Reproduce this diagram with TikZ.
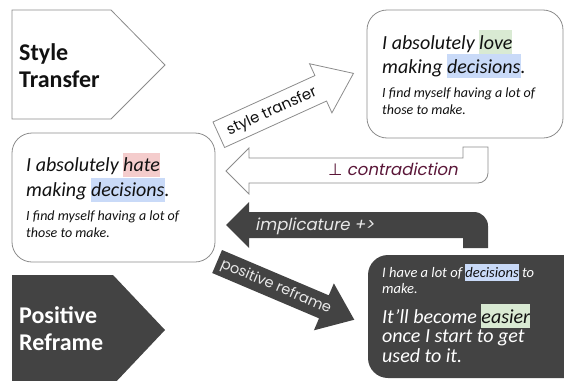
\documentclass[tikz,border=0pt]{standalone}
\usepackage{fontspec}
\setmainfont{Carlito}
\newfontfamily\lblfont{Poppins}
\newfontfamily\lblslant[FakeSlant=0.2]{Poppins}
\newfontfamily\symfont{DejaVu Sans}
\definecolor{dark}{HTML}{434343}
\definecolor{edgegray}{HTML}{8C8C8C}
\definecolor{hlgreen}{HTML}{D9EAD3}
\definecolor{hlblue}{HTML}{C9DAF8}
\definecolor{hlred}{HTML}{F4CCCC}
\definecolor{contra}{HTML}{5A1638}
\definecolor{lightlbl}{HTML}{E8E8E8}
\definecolor{textblack}{HTML}{111111}
\newcommand\hlword[2]{{\setlength{\fboxsep}{0pt}\colorbox{#1}{\rule[-0.25em]{0pt}{1.18em}#2}}}
\begin{document}
\begin{tikzpicture}[x=1pt,y=-1pt,
  plainshape/.style={draw=edgegray, line width=0.8pt, fill=white, line join=miter},
  txt/.style={inner sep=0pt, anchor=base west},
  bigtxt/.style={txt, font=\fontsize{20}{24}\selectfont\itshape, text=textblack},
  smalltxt/.style={txt, font=\fontsize{14}{17}\selectfont\itshape, text=textblack},
  titletxt/.style={txt, font=\fontsize{24}{27}\selectfont\bfseries},
  lbl/.style={inner sep=0pt, font=\fontsize{14.5}{16}\selectfont\lblfont},
  slantlbl/.style={inner sep=0pt, font=\fontsize{16.5}{18}\selectfont\lblslant},
]
\useasboundingbox (0,0) rectangle (564,380);

% Style Transfer pentagon
\draw[plainshape] (12,10) -- (111,10) -- (165,65) -- (111,119) -- (12,119) -- cycle;
\node[titletxt, text=textblack] (st1) at (19,60) {Style};
\node[titletxt, text=textblack] (st2) at (19,87) {Transfer};

% Positive Reframe pentagon
\fill[dark] (12,275) -- (113,275) -- (165,330) -- (113,385) -- (12,385) -- cycle;
\node[titletxt, text=white] (pr1) at (19,323) {Positive};
\node[titletxt, text=white] (pr2) at (19,350) {Reframe};

% top right box
\draw[plainshape, rounded corners=20pt] (367,10) rectangle (563,138);
\node[bigtxt] (tr1) at (382,49) {I absolutely \hlword{hlgreen}{love}};
\node[bigtxt] (tr2) at (382,73) {making \hlword{hlblue}{decisions}.};
\node[smalltxt] (tr3) at (382,97) {I find myself having a lot of};
\node[smalltxt] (tr4) at (382,114) {those to make.};

% left box
\draw[plainshape, rounded corners=20pt] (12,133) rectangle (215,262);
\node[bigtxt] (lb1) at (26,171.5) {I absolutely \hlword{hlred}{hate}};
\node[bigtxt] (lb2) at (26,196.5) {making \hlword{hlblue}{decisions}.};
\node[smalltxt] (lb3) at (26,220) {I find myself having a lot of};
\node[smalltxt] (lb4) at (26,237) {those to make.};

% bottom right dark box
\fill[dark, rounded corners=20pt] (368,255) rectangle (590,378);
\node[smalltxt, text=white, font=\fontsize{14.5}{17}\selectfont\itshape] (br1) at (382,277) {I have a lot of \textcolor{textblack}{\hlword{hlblue}{decisions}} to};
\node[smalltxt, text=white, font=\fontsize{14.5}{17}\selectfont\itshape] (br2) at (382,293) {make.};
\node[bigtxt, text=white] (br3) at (382,323) {It’ll become \textcolor{textblack}{\hlword{hlgreen}{easier}}};
\node[bigtxt, text=white] (br4) at (382,342.5) {once I start to get};
\node[bigtxt, text=white] (br5) at (382,362) {used to it.};

% contradiction arrow
\draw[plainshape] (226,171) -- (249,148) -- (249,158) -- (463,158) -- (463,147) -- (488,147) -- (488,173)
  .. controls (488,178.5) and (483.5,183) .. (478,183) -- (249,183) -- (249,194) -- cycle;
\node[slantlbl, anchor=base east, text=contra] (contlbl) at (458,175.5) {{\symfont ⊥} contradiction};

% implicature arrow
\fill[dark] (226,225) -- (249,202) -- (249,212) -- (474,212) .. controls (481.7,212) and (488,218.3) .. (488,226)
  -- (488,248) -- (463,248) -- (463,238) -- (249,238) -- (249,248) -- cycle;
\node[slantlbl, anchor=base west, text=lightlbl] (implbl) at (255,230.5) {implicature +>};

% style transfer arrow
\begin{scope}[shift={(213,122)}, rotate=24.5]
\draw[plainshape] (0,0) -- (112,0) -- (112,-13) -- (148,14) -- (112,41) -- (112,28) -- (0,28) -- cycle;
\node[lbl, transform shape, text=textblack, font=\fontsize{15}{16}\selectfont\lblfont] (stlbl) at (58,15) {style transfer};
\end{scope}

% positive reframe arrow
\begin{scope}[shift={(222,250)}, rotate=-23]
\fill[dark] (0,0) -- (116,0) -- (116,-13) -- (149,12.5) -- (116,38) -- (116,25) -- (0,25) -- cycle;
\node[lbl, transform shape, text=lightlbl] (prlbl) at (64,13) {positive reframe};
\end{scope}
\end{tikzpicture}
\end{document}
